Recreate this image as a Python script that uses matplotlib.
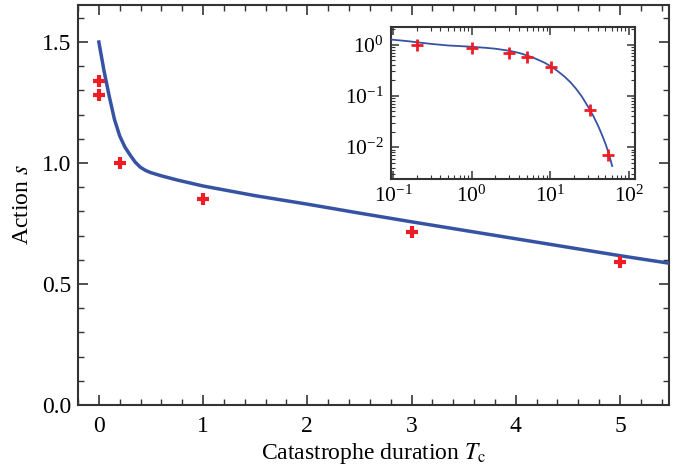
import numpy as np
import matplotlib
matplotlib.use('Agg')
import matplotlib.pyplot as plt
from matplotlib.ticker import MultipleLocator, LogLocator, NullFormatter

plt.rcParams['font.family'] = ['Liberation Serif', 'DejaVu Serif']
plt.rcParams['mathtext.fontset'] = 'stix'

# ── 데이터 ──────────────────────────────────────────
# 메인: 곡선 (theory)
curve_T = [0, 0.05, 0.1, 0.15, 0.2, 0.25, 0.3, 0.35, 0.4, 0.45, 0.5, 0.6, 0.75,
           1.0, 1.5, 2.0, 2.5, 3.0, 3.5, 4.0, 4.5, 5.0, 5.47]
curve_s = [1.50, 1.38, 1.275, 1.180, 1.112, 1.066, 1.033, 1.003, 0.982, 0.969,
           0.960, 0.947, 0.930, 0.905, 0.865, 0.830, 0.793, 0.757, 0.722,
           0.687, 0.652, 0.617, 0.586]

# 메인: 시뮬레이션 점
pts_T = [0, 0, 0.2, 1, 3, 5]
pts_s = [1.34, 1.28, 1.00, 0.85, 0.715, 0.59]

# 인셋 (log-log)
inset_curve_T = [0.095, 0.15, 0.2, 0.3, 0.5, 0.7, 1, 1.5, 2, 3, 4, 5, 6, 7, 8.5,
                 10, 12, 15, 18, 21, 25, 30, 35, 40, 45, 50, 55, 61]
inset_curve_s = [1.25, 1.17, 1.11, 1.033, 0.96, 0.935, 0.905, 0.865, 0.83,
                 0.757, 0.687, 0.616, 0.558, 0.505, 0.44, 0.38, 0.315, 0.24,
                 0.184, 0.14, 0.098, 0.062, 0.041, 0.027, 0.0178, 0.0118,
                 0.0077, 0.0043]
inset_pts_T = [0.2, 1, 3, 5, 10.3, 32, 54]
inset_pts_s = [1.0, 0.84, 0.70, 0.575, 0.362, 0.053, 0.007]

LINE_C = '#3653a3'
PT_C = '#ee1c25'
SPINE_C = '#333333'


def style_axes(ax, lw=1.5):
    for sp in ax.spines.values():
        sp.set_linewidth(lw)
        sp.set_color(SPINE_C)
    ax.tick_params(which='both', direction='in', top=True, right=True,
                   color=SPINE_C)


fig = plt.figure(figsize=(6.73, 4.68), dpi=100)
ax = fig.add_axes([78 / 673, 1 - 405 / 468, (669 - 78) / 673, (405 - 5) / 468])

ax.plot(curve_T, curve_s, color=LINE_C, lw=2.5, zorder=3)
ax.plot(pts_T, pts_s, ls='none', marker='+', ms=9, mew=3, color=PT_C, zorder=4)

ax.set_xlim(-0.2, 5.47)
ax.set_ylim(0, 1.653)
ax.xaxis.set_major_locator(MultipleLocator(1))
ax.xaxis.set_minor_locator(MultipleLocator(0.2))
ax.yaxis.set_major_locator(MultipleLocator(0.5))
ax.yaxis.set_minor_locator(MultipleLocator(0.1))
ax.yaxis.set_major_formatter(plt.FuncFormatter(lambda v, _: f'{v:.1f}'))
style_axes(ax)
ax.tick_params(which='major', length=7, width=1.2, labelsize=17, pad=5)
ax.tick_params(axis='x', which='major', pad=8)
ax.tick_params(which='minor', length=4, width=1.0)
ax.set_xlabel('Catastrophe duration $T_\\mathrm{c}$', fontsize=17, labelpad=3)
ax.set_ylabel('Action $s$', fontsize=17, labelpad=6)

# ── 인셋 ──────────────────────────────────────────────
ins = fig.add_axes([391 / 673, 1 - 179 / 468, 244 / 673, 152 / 468])
ins.plot(inset_curve_T, inset_curve_s, color=LINE_C, lw=1.3, zorder=3)
ins.plot(inset_pts_T, inset_pts_s, ls='none', marker='+', ms=8, mew=2,
         color=PT_C, zorder=4)
ins.set_xscale('log')
ins.set_yscale('log')
ins.set_xlim(0.094, 119)
ins.set_ylim(0.0024, 2.2)
ins.xaxis.set_major_locator(LogLocator(base=10, numticks=10))
ins.yaxis.set_major_locator(LogLocator(base=10, numticks=10))
ins.xaxis.set_minor_locator(LogLocator(base=10, subs=np.arange(2, 10), numticks=20))
ins.yaxis.set_minor_locator(LogLocator(base=10, subs=np.arange(2, 10), numticks=20))
ins.xaxis.set_minor_formatter(NullFormatter())
ins.yaxis.set_minor_formatter(NullFormatter())
style_axes(ins, lw=1.5)
ins.tick_params(which='major', length=6, width=1.1, labelsize=15.5, pad=5)
ins.tick_params(which='minor', length=3, width=0.8)

fig.savefig('out.png', dpi=100)
